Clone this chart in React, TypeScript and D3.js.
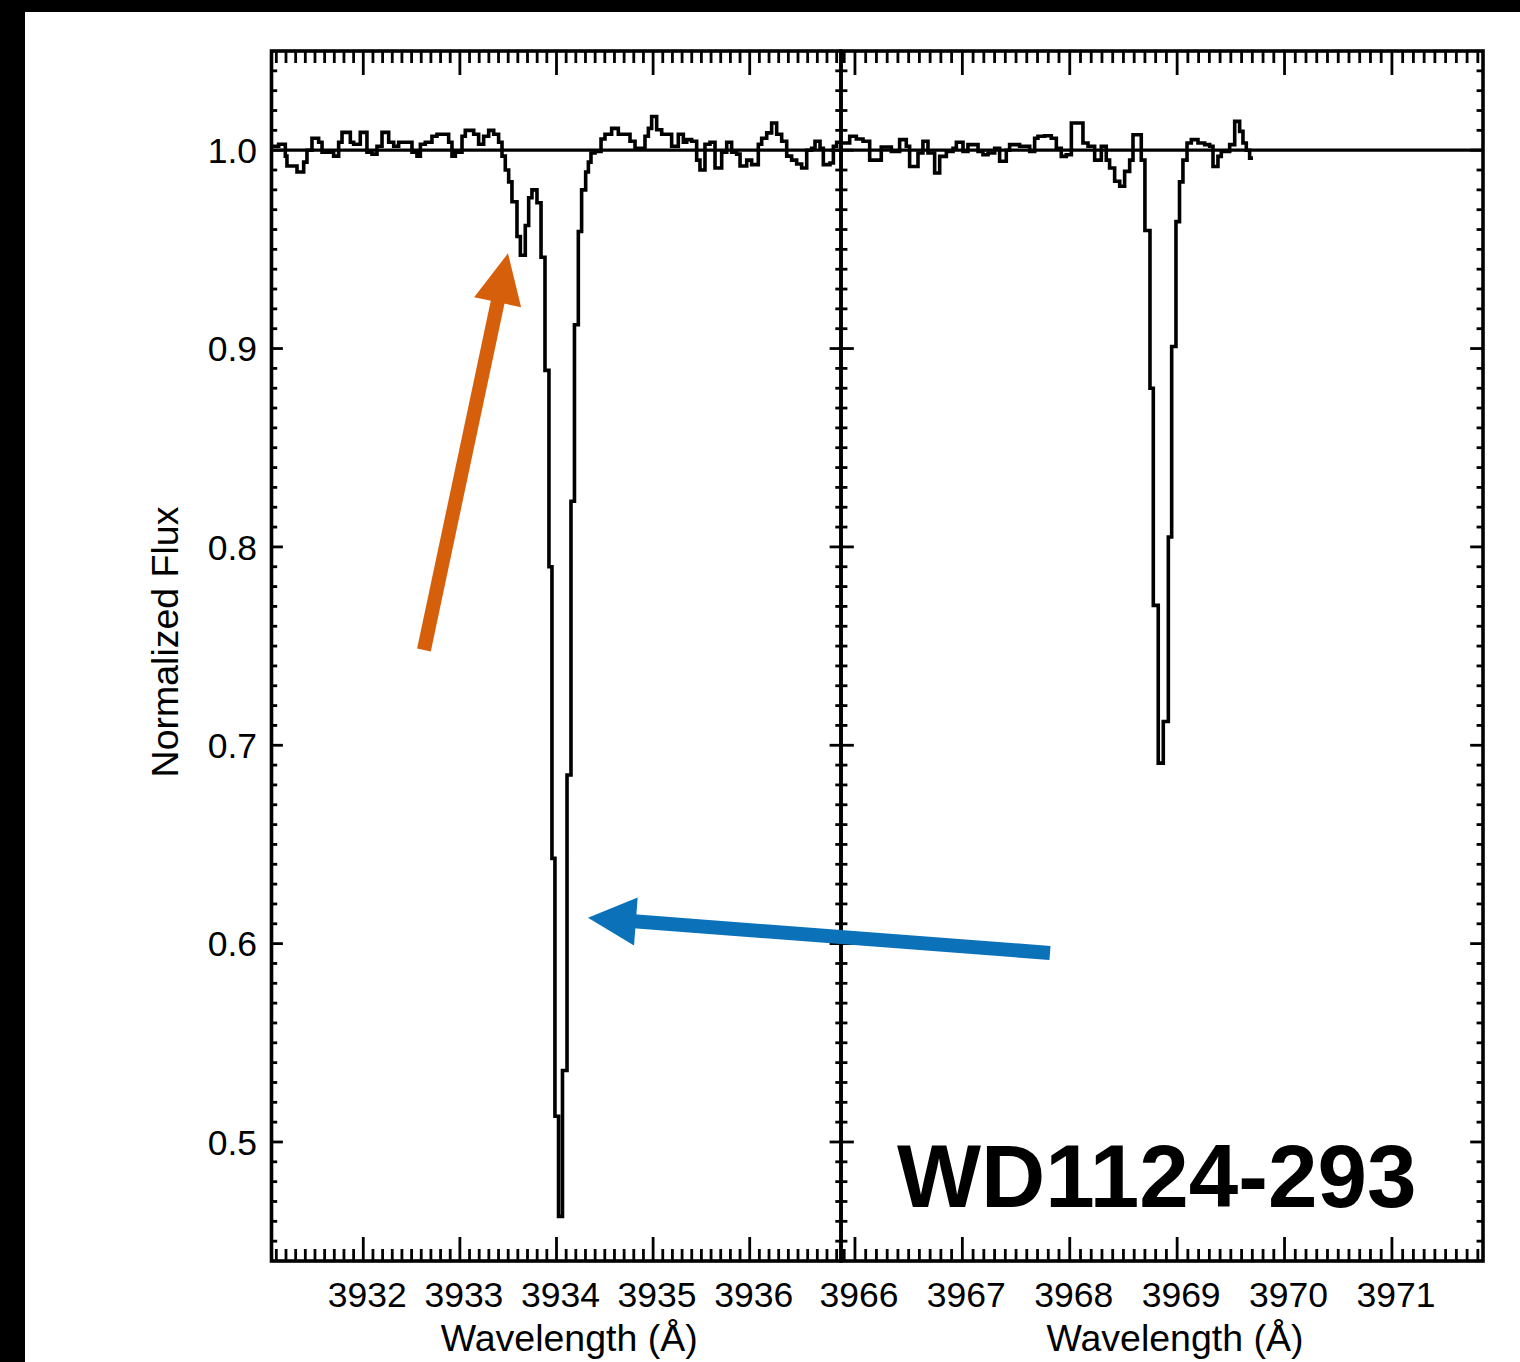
import React from 'react';
import * as d3 from 'd3';

const W = 1520, H = 1362;

// Ca II K region (left panel): step start wavelength and normalized flux
const leftWave = [3931.055,3931.124,3931.193,3931.210,3931.314,3931.383,3931.417,3931.469,3931.538,3931.573,3931.693,3931.745,3931.780,3931.866,3931.900,3931.969,3932.038,3932.090,3932.142,3932.194,3932.263,3932.315,3932.366,3932.504,3932.556,3932.591,3932.642,3932.711,3932.763,3932.884,3932.918,3932.953,3933.022,3933.056,3933.143,3933.194,3933.246,3933.298,3933.350,3933.401,3933.436,3933.470,3933.505,3933.539,3933.591,3933.626,3933.677,3933.712,3933.746,3933.798,3933.840,3933.881,3933.922,3933.953,3933.984,3934.021,3934.062,3934.109,3934.150,3934.186,3934.226,3934.260,3934.302,3934.330,3934.357,3934.399,3934.461,3934.502,3934.571,3934.640,3934.761,3934.813,3934.916,3934.951,3934.985,3935.037,3935.089,3935.192,3935.261,3935.313,3935.348,3935.399,3935.451,3935.485,3935.537,3935.589,3935.641,3935.710,3935.762,3935.813,3935.865,3935.900,3935.969,3936.020,3936.089,3936.124,3936.176,3936.227,3936.279,3936.331,3936.383,3936.434,3936.486,3936.538,3936.590,3936.641,3936.676,3936.728,3936.762,3936.831,3936.866,3936.900];
const leftFlux = [1.002,1.003,0.997,0.992,0.989,0.994,1.000,1.006,1.004,0.999,0.997,1.004,1.009,1.004,1.003,1.009,0.999,0.998,1.002,1.009,1.004,1.002,1.004,0.999,0.997,1.003,1.004,1.007,1.008,1.004,0.997,0.999,1.007,1.010,1.008,1.003,1.007,1.010,1.008,1.004,0.997,0.990,0.984,0.974,0.9565,0.947,0.962,0.976,0.980,0.9735,0.946,0.889,0.790,0.643,0.513,0.4625,0.536,0.685,0.823,0.912,0.959,0.980,0.989,0.994,0.9986,0.9994,1.0056,1.008,1.011,1.008,1.0045,1.001,1.007,1.011,1.017,1.0103,1.008,1.002,1.008,1.004,1.0053,1.0045,0.995,0.990,1.003,1.004,0.991,0.999,1.004,0.999,0.998,0.992,0.995,0.9927,1.003,1.006,1.0087,1.0137,1.008,1.0045,0.997,0.995,0.993,0.991,1.000,1.001,1.0045,1.001,0.9927,0.9935,1.002,1.004];
const leftEnd = 3936.945;

// Ca II H region (right panel)
const rightWave = [3965.870,3965.951,3966.013,3966.075,3966.137,3966.245,3966.339,3966.416,3966.478,3966.509,3966.587,3966.633,3966.680,3966.742,3966.789,3966.851,3966.913,3966.944,3967.006,3967.052,3967.146,3967.192,3967.239,3967.301,3967.347,3967.409,3967.440,3967.533,3967.627,3967.673,3967.704,3967.766,3967.828,3967.875,3967.921,3967.968,3968.015,3968.123,3968.170,3968.232,3968.294,3968.340,3968.371,3968.418,3968.465,3968.511,3968.558,3968.589,3968.666,3968.700,3968.747,3968.778,3968.824,3968.871,3968.918,3968.949,3968.989,3969.022,3969.054,3969.092,3969.132,3969.194,3969.256,3969.303,3969.334,3969.380,3969.411,3969.489,3969.536,3969.582,3969.613,3969.644,3969.675];
const rightFlux = [1.0036,1.007,1.0056,1.0045,0.995,1.0016,0.9994,1.0053,1.002,0.9918,0.9986,1.0045,0.9986,0.9885,0.9969,0.9994,1.001,1.004,0.9994,1.0028,0.9994,0.9977,0.9986,1.001,0.9944,1.000,1.0028,1.002,0.9994,1.006,1.007,1.0073,1.006,1.001,0.9969,0.9977,1.0137,1.0036,1.002,0.995,1.002,0.995,0.991,0.9843,0.9818,0.9893,0.995,1.0078,0.995,0.9595,0.880,0.7705,0.691,0.712,0.805,0.901,0.964,0.984,0.995,1.0036,1.0053,1.0036,1.0028,1.002,0.9918,0.9969,0.9994,1.0028,1.0145,1.0095,1.0036,1.000,0.996];
const rightEnd = 3969.706;

const yMajor = [0.5, 0.6, 0.7, 0.8, 0.9, 1.0];
const yLabels = ['0.5', '0.6', '0.7', '0.8', '0.9', '1.0'];
const xMajorLeft = [3932, 3933, 3934, 3935, 3936];
const xMajorRight = [3966, 3967, 3968, 3969, 3970, 3971];
const continuum = 1.0;

const leftDomain: [number, number] = [3931.05, 3936.945];
const rightDomain: [number, number] = [3965.87, 3971.848];
const yDomain: [number, number] = [0.44, 1.05];

// annotation arrows in data coordinates
const orangeArrow = { tail: [3932.628, 0.748], tip: [3933.498, 0.948] };
const blueArrow = { tail: [3967.816, 0.5953], tip: [3934.326, 0.613] };

const FONT = '"Liberation Sans", Arial, Helvetica, sans-serif';
const PX0 = 271.5, PXM = 841, PX1 = 1483, PY0 = 51, PY1 = 1261;

function Arrow({ x1, y1, x2, y2, color, width, headLen, headHalf }: any) {
  const dx = x2 - x1, dy = y2 - y1;
  const L = Math.hypot(dx, dy);
  const ux = dx / L, uy = dy / L;
  const nx = -uy, ny = ux;
  const bx = x2 - ux * headLen, by = y2 - uy * headLen;
  const pts = [
    [x2, y2],
    [bx + nx * headHalf, by + ny * headHalf],
    [bx - nx * headHalf, by - ny * headHalf],
  ].map(p => p.join(',')).join(' ');
  return (
    <g>
      <line x1={x1} y1={y1} x2={bx + ux * 2} y2={by + uy * 2} stroke={color} strokeWidth={width} />
      <polygon points={pts} fill={color} />
    </g>
  );
}

function Panel({ x, wave, flux, endWave, majors, left, right }: any) {
  const y = d3.scaleLinear().domain(yDomain).range([PY1, PY0]);
  const [d0, d1] = x.domain();
  const minor = d3.range(Math.ceil(d0 * 10 - 1e-6), Math.floor(d1 * 10 + 1e-6) + 1).map((v: number) => v / 10);
  const yMinor = d3.range(45, 105).map((v: number) => v / 100);
  const pw = right - left;
  const yMajLen = 0.02 * pw, yMinLen = 0.01 * pw;
  const xMajLen = 24, xMinLen = 12;
  const pts = wave.map((w: number, i: number) => [w, flux[i]]);
  pts.push([endWave, flux[flux.length - 1]]);
  const line = d3.line<any>().x(d => x(d[0])).y(d => y(d[1])).curve(d3.curveStepAfter);
  const isMaj = (v: number) => majors.some((m: number) => Math.abs(m - v) < 1e-6);
  const isYMaj = (v: number) => yMajor.some((m: number) => Math.abs(m - v) < 1e-6);
  return (
    <g>
      {minor.map((v: number) => {
        const len = isMaj(v) ? xMajLen : xMinLen;
        const px = x(v);
        return (
          <g key={'x' + v}>
            <line x1={px} x2={px} y1={PY1} y2={PY1 - len} stroke="#000" strokeWidth={2.8} />
            <line x1={px} x2={px} y1={PY0} y2={PY0 + len} stroke="#000" strokeWidth={2.8} />
          </g>
        );
      })}
      {yMinor.map((v: number) => {
        const len = isYMaj(v) ? yMajLen : yMinLen;
        const py = y(v);
        return (
          <g key={'y' + v}>
            <line x1={left} x2={left + len} y1={py} y2={py} stroke="#000" strokeWidth={2.8} />
            <line x1={right} x2={right - len} y1={py} y2={py} stroke="#000" strokeWidth={2.8} />
          </g>
        );
      })}
      {majors.map((v: number) => (
        <text key={'xl' + v} x={x(v) + 4} y={1307} textAnchor="middle" fontFamily={FONT} fontSize={35.5} fill="#000">{v}</text>
      ))}
      <text x={(left + right) / 2 + 13} y={1351} textAnchor="middle" fontFamily={FONT} fontSize={37.5} fill="#000">Wavelength (Å)</text>
      <line x1={left} x2={right} y1={y(continuum)} y2={y(continuum)} stroke="#000" strokeWidth={3.2} />
      <path d={line(pts) || ''} fill="none" stroke="#000" strokeWidth={3.6} strokeLinejoin="miter" />
      <rect x={left} y={PY0} width={right - left} height={PY1 - PY0} fill="none" stroke="#000" strokeWidth={3.6} />
    </g>
  );
}

export default function App() {
  const y = d3.scaleLinear().domain(yDomain).range([PY1, PY0]);
  const xL = d3.scaleLinear().domain(leftDomain).range([PX0, PXM]);
  const xR = d3.scaleLinear().domain(rightDomain).range([PXM, PX1]);
  return (
    <svg width={W} height={H} style={{ position: 'absolute', left: 0, top: 0, display: 'block' }}>
      <rect x={0} y={0} width={W} height={H} fill="#000" />
      <rect x={25} y={12} width={W - 25} height={H - 12} fill="#fff" />
      <Panel x={xL} wave={leftWave} flux={leftFlux} endWave={leftEnd} majors={xMajorLeft} left={PX0} right={PXM} />
      <Panel x={xR} wave={rightWave} flux={rightFlux} endWave={rightEnd} majors={xMajorRight} left={PXM} right={PX1} />
      {yMajor.map((v, i) => (
        <text key={'yl' + v} x={257} y={y(v)} dy="0.36em" textAnchor="end" fontFamily={FONT} fontSize={35.5} fill="#000">{yLabels[i]}</text>
      ))}
      <text transform={`translate(178, 642) rotate(-90)`} textAnchor="middle" fontFamily={FONT} fontSize={37.5} fill="#000">Normalized Flux</text>
      <Arrow x1={xL(orangeArrow.tail[0])} y1={y(orangeArrow.tail[1])} x2={xL(orangeArrow.tip[0])} y2={y(orangeArrow.tip[1])} color="#D65F0C" width={14} headLen={50} headHalf={24} />
      <Arrow x1={xR(blueArrow.tail[0])} y1={y(blueArrow.tail[1])} x2={xL(blueArrow.tip[0])} y2={y(blueArrow.tip[1])} color="#0B72BA" width={14} headLen={48} headHalf={24} />
      <text x={897} y={1207} fontFamily={FONT} fontWeight="bold" fontSize={89} fill="#000">WD1124-293</text>
    </svg>
  );
}
